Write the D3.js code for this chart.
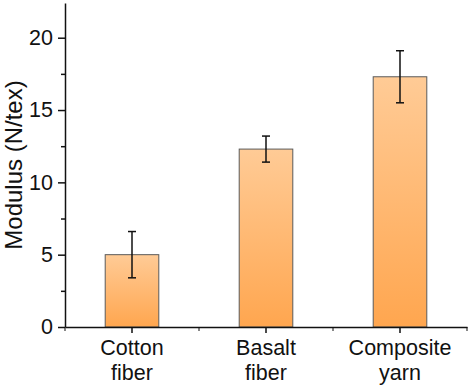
<!DOCTYPE html>
<html>
<head>
<meta charset="utf-8">
<script src="https://cdn.jsdelivr.net/npm/d3@7"></script>
<style>
  body { margin: 0; background: #fff; }
  text { font-family: "Liberation Sans", Arial, sans-serif; fill: #111; }
</style>
</head>
<body>
<svg id="chart"></svg>
<script>
// Chart data
const categories = [["Cotton", "fiber"], ["Basalt", "fiber"], ["Composite", "yarn"]];
const modulus = [5.0, 12.3, 17.3];
const modulusErr = [1.6, 0.9, 1.8];
const yTicks = [0, 5, 10, 15, 20];
const yMinorTicks = [2.5, 7.5, 12.5, 17.5];

const width = 470;
const height = 387;
const margin = { top: 3, right: 3, bottom: 60, left: 65 };

const svg = d3.select("#chart")
    .attr("width", width)
    .attr("height", height);

// Gradient fill for bars (lighter at top)
const grad = svg.append("defs").append("linearGradient")
    .attr("id", "barFill")
    .attr("x1", 0).attr("y1", 0).attr("x2", 0).attr("y2", 1);
grad.append("stop").attr("offset", "0%").attr("stop-color", "#FFCB96");
grad.append("stop").attr("offset", "100%").attr("stop-color", "#FFA64F");

const x = d3.scaleBand()
    .domain(d3.range(categories.length))
    .range([margin.left, width - margin.right])
    .paddingInner(0.6)
    .paddingOuter(0.3);

const y = d3.scaleLinear()
    .domain([0, 22.4])
    .range([height - margin.bottom, margin.top]);

// Bars
svg.selectAll(".bar")
    .data(modulus)
    .enter().append("rect")
    .attr("class", "bar")
    .attr("x", (d, i) => x(i))
    .attr("y", d => y(d))
    .attr("width", x.bandwidth())
    .attr("height", d => y(0) - y(d))
    .attr("fill", "url(#barFill)")
    .attr("stroke", "#5a5a5a")
    .attr("stroke-width", 1);

// Error bars
const capW = 4;
const err = svg.selectAll(".err")
    .data(modulus)
    .enter().append("g")
    .attr("class", "err")
    .attr("stroke", "#111")
    .attr("stroke-width", 1.5);
err.append("line")
    .attr("x1", (d, i) => x(i) + x.bandwidth() / 2)
    .attr("x2", (d, i) => x(i) + x.bandwidth() / 2)
    .attr("y1", (d, i) => y(d + modulusErr[i]))
    .attr("y2", (d, i) => y(d - modulusErr[i]));
err.append("line")
    .attr("x1", (d, i) => x(i) + x.bandwidth() / 2 - capW)
    .attr("x2", (d, i) => x(i) + x.bandwidth() / 2 + capW)
    .attr("y1", (d, i) => y(d + modulusErr[i]))
    .attr("y2", (d, i) => y(d + modulusErr[i]));
err.append("line")
    .attr("x1", (d, i) => x(i) + x.bandwidth() / 2 - capW)
    .attr("x2", (d, i) => x(i) + x.bandwidth() / 2 + capW)
    .attr("y1", (d, i) => y(d - modulusErr[i]))
    .attr("y2", (d, i) => y(d - modulusErr[i]));

// Y axis
const yAxis = svg.append("g")
    .attr("transform", `translate(${margin.left},0)`)
    .call(d3.axisLeft(y).tickValues(yTicks).tickSize(7).tickPadding(5).tickSizeOuter(0));
yAxis.selectAll(".tick text").style("font-size", "21.5px");
svg.append("g")
    .attr("transform", `translate(${margin.left},0)`)
    .call(d3.axisLeft(y).tickValues(yMinorTicks).tickSize(4).tickFormat("").tickSizeOuter(0))
    .select(".domain").remove();

// X axis
const xStep = (width - margin.right - margin.left) / categories.length;
const xAxis = svg.append("g")
    .attr("transform", `translate(0,${y(0)})`)
    .call(d3.axisBottom(x).tickSize(6).tickFormat("").tickSizeOuter(0));
svg.append("g")
    .attr("transform", `translate(0,${y(0)})`)
    .selectAll("line")
    .data(d3.range(categories.length + 1))
    .enter().append("line")
    .attr("x1", i => margin.left + i * xStep)
    .attr("x2", i => margin.left + i * xStep)
    .attr("y1", 0).attr("y2", 4)
    .attr("stroke", "#111");

svg.selectAll(".domain, .tick line")
    .attr("stroke", "#111")
    .attr("stroke-width", 1.5);

// Category labels
svg.selectAll(".cat")
    .data(categories)
    .enter().append("text")
    .attr("class", "cat")
    .attr("text-anchor", "middle")
    .style("font-size", "21.5px")
    .each(function(d, i) {
        const t = d3.select(this);
        d.forEach((line, k) => {
            t.append("tspan")
                .attr("x", x(i) + x.bandwidth() / 2)
                .attr("y", 355 + k * 25)
                .text(line);
        });
    });

// Y axis title
svg.append("text")
    .attr("transform", `translate(22,${(y(0) + margin.top) / 2}) rotate(-90)`)
    .attr("text-anchor", "middle")
    .style("font-size", "24px")
    .text("Modulus (N/tex)");
</script>
</body>
</html>
